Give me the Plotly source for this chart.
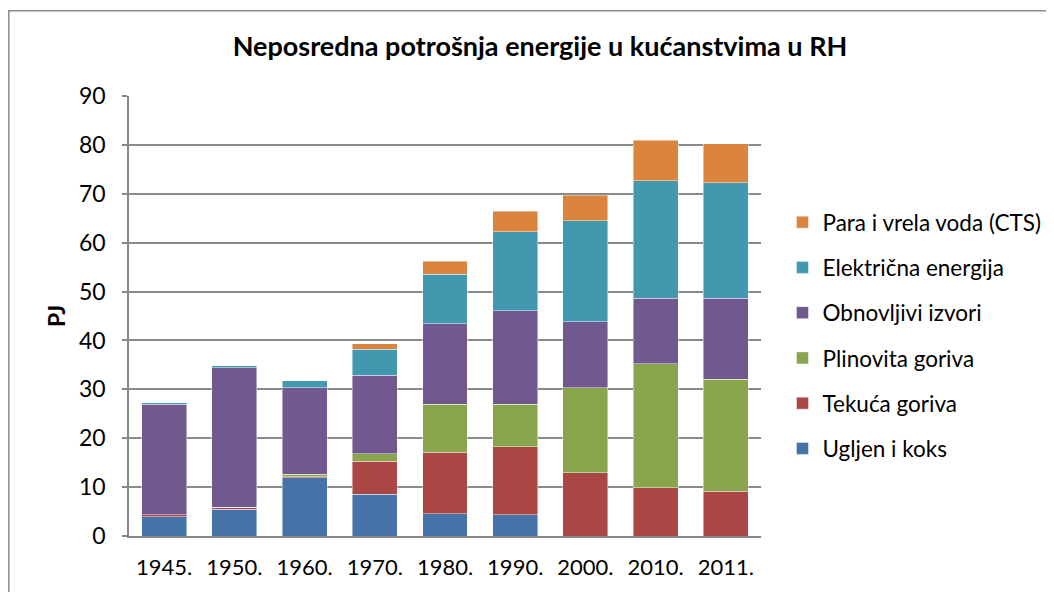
import plotly.graph_objects as go

years = ["1945.", "1950.", "1960.", "1970.", "1980.", "1990.", "2000.", "2010.", "2011."]
ugljen = [3.9, 5.5, 11.9, 8.5, 4.6, 4.3, 0, 0, 0]
tekuca = [0.4, 0.4, 0.2, 6.8, 12.5, 14.0, 12.9, 9.9, 9.2]
plinovita = [0, 0, 0.5, 1.5, 9.8, 8.6, 17.4, 25.3, 22.9]
obnovljivi = [22.6, 28.5, 17.7, 16.1, 16.5, 19.2, 13.5, 13.4, 16.5]
elektricna = [0.4, 0.4, 1.5, 5.3, 10.1, 16.1, 20.7, 24.1, 23.7]
para = [0, 0, 0, 1.1, 2.7, 4.2, 5.2, 8.3, 7.9]

series = [
    ("Ugljen i koks", ugljen, "#4572A7"),
    ("Tekuća goriva", tekuca, "#AA4643"),
    ("Plinovita goriva", plinovita, "#89A54E"),
    ("Obnovljivi izvori", obnovljivi, "#71588F"),
    ("Električna energija", elektricna, "#4198AF"),
    ("Para i vrela voda (CTS)", para, "#DB843D"),
]

FONT = "Lato, 'Open Sans', sans-serif"

fig = go.Figure()
n = len(series)
for i, (name, vals, col) in enumerate(series):
    fig.add_trace(go.Bar(
        x=years, y=vals, name=name, legendgroup=name, legendrank=n - i,
        marker=dict(color=col, line=dict(color="rgba(255,255,255,0.55)", width=0.8)),
    ))

# page body has an 8px margin: figure coords = screen coords - 8
OFF = 8
W, H = 1054 - OFF, 592 - OFF
L = 129 - OFF
T = 96 - OFF
R = W - (761.5 - OFF)
B = H - (536 - OFF)
pw = W - L - R
ph = H - T - B

def px2x(px):
    return (px - OFF - L) / pw

def py2y(py):
    return (H - B - (py - OFF)) / ph

fig.update_layout(
    width=W, height=H,
    margin=dict(l=L, r=R, t=T, b=B, autoexpand=False),
    barmode="stack", bargap=0.36,
    paper_bgcolor="white", plot_bgcolor="white",
    font=dict(family=FONT, size=22, color="#000000"),
    title=dict(
        text="<b>Neposredna potrošnja energije u kućanstvima u RH</b>",
        x=(540 - OFF) / W, xref="container", xanchor="center",
        y=1 - (47 - OFF) / H, yref="container", yanchor="middle",
        font=dict(family=FONT, size=27, color="#000000"),
    ),
    showlegend=True,
    legend=dict(
        traceorder="grouped", tracegroupgap=13,
        x=px2x(783), xanchor="left", y=py2y(201), yanchor="top",
        font=dict(family=FONT, size=22.5, color="#000000"),
        bgcolor="rgba(0,0,0,0)",
    ),
    xaxis=dict(
        showline=True, linecolor="#888888", linewidth=1.5,
        ticks="", ticklabelstandoff=11,
        tickfont=dict(family=FONT, size=22, color="#000000"),
    ),
    yaxis=dict(
        range=[0, 90], dtick=10, tick0=0,
        showgrid=True, gridcolor="#8a8a8a", gridwidth=1.5,
        showline=True, linecolor="#888888", linewidth=1.5,
        ticks="outside", ticklen=5, tickcolor="#888888", tickwidth=1.5,
        ticklabelstandoff=12,
        tickfont=dict(family=FONT, size=23, color="#000000"),
        zeroline=False,
    ),
    annotations=[dict(
        text="<b>PJ</b>", textangle=-90,
        x=px2x(56), y=py2y(316), xref="paper", yref="paper",
        xanchor="center", yanchor="middle", showarrow=False,
        font=dict(family=FONT, size=23, color="#000000"),
    )],
    shapes=[dict(
        type="rect", xref="paper", yref="paper",
        x0=px2x(8.75), x1=px2x(1080), y0=py2y(640), y1=py2y(10.75),
        line=dict(color="#8c8c8c", width=1.5), fillcolor="rgba(0,0,0,0)",
        layer="below",
    )],
)

fig.write_html("out.html")
